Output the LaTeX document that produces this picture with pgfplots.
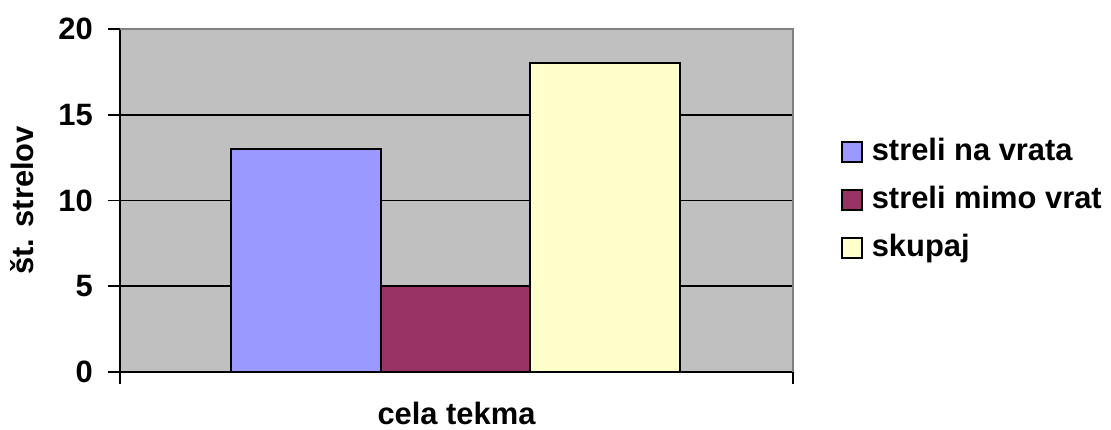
\documentclass[border=0pt]{standalone}
\usepackage{pgfplots}
\pgfplotsset{compat=1.18}
\usepackage{fontspec}
\setmainfont{Liberation Sans}
\definecolor{bggray}{HTML}{C0C0C0}
\definecolor{cblue}{HTML}{9999FF}
\definecolor{cplum}{HTML}{993366}
\definecolor{cyell}{HTML}{FFFFCC}
\definecolor{bord}{HTML}{808080}
\newcommand{\bigf}{\fontsize{31}{37}\selectfont\bfseries}
\pgfplotsset{
  mybar/.style={ybar, bar width=149.5, bar shift=0pt, draw=black, line width=1.6bp, fill=#1,
    legend image code/.code={\draw[draw=black, line width=1.6bp, fill=#1] (0bp,-10bp) rectangle (20bp,10bp);}},
}
\begin{document}
\begin{tikzpicture}
\path[use as bounding box] (0,0) rectangle (1111bp,430bp);
\begin{axis}[
  at={(120bp,58bp)}, anchor=south west,
  scale only axis, width=673bp, height=343bp,
  xmin=0, xmax=673, ymin=0, ymax=20,
  axis x line*=bottom, axis y line*=left,
  axis line style={black, line width=1.6bp, -},
  axis background/.style={fill=bggray},
  ytick={0,5,10,15,20},
  xtick={0,673}, xticklabels={,},
  tick align=outside, major tick length=12bp,
  tick style={black, line width=1.6bp},
  ymajorgrids, grid style={black, line width=1.6bp},
  /pgf/number format/assume math mode=true,
  ticklabel style={font=\bigf},
  yticklabel style={inner sep=0pt, anchor=east, xshift=-15bp},
  xlabel={cela tekma}, ylabel={št. strelov},
  label style={font=\bigf},
  xlabel style={at={(axis description cs:0.5,-0.152)}, anchor=base},
  ylabel style={at={(axis description cs:-0.1456,0.5)}, anchor=center},
  legend style={draw=none, fill=none, at={(axis description cs:1.0713,0.685)}, anchor=north west,
    inner sep=0pt, row sep=18bp, column sep=9bp, font=\bigf,
    nodes={inner sep=0pt, text height=23bp, text depth=7bp}},
  legend cell align=left,
  clip=false,
]
\addplot[mybar=cblue] coordinates {(186,13)};
\addplot[mybar=cplum] coordinates {(335.5,5)};
\addplot[mybar=cyell] coordinates {(485,18)};
\legend{streli na vrata, streli mimo vrat, skupaj}
\draw[bord, line width=1.6bp] (rel axis cs:0,1) -- (rel axis cs:1,1) -- (rel axis cs:1,0);
\end{axis}
\end{tikzpicture}
\end{document}
